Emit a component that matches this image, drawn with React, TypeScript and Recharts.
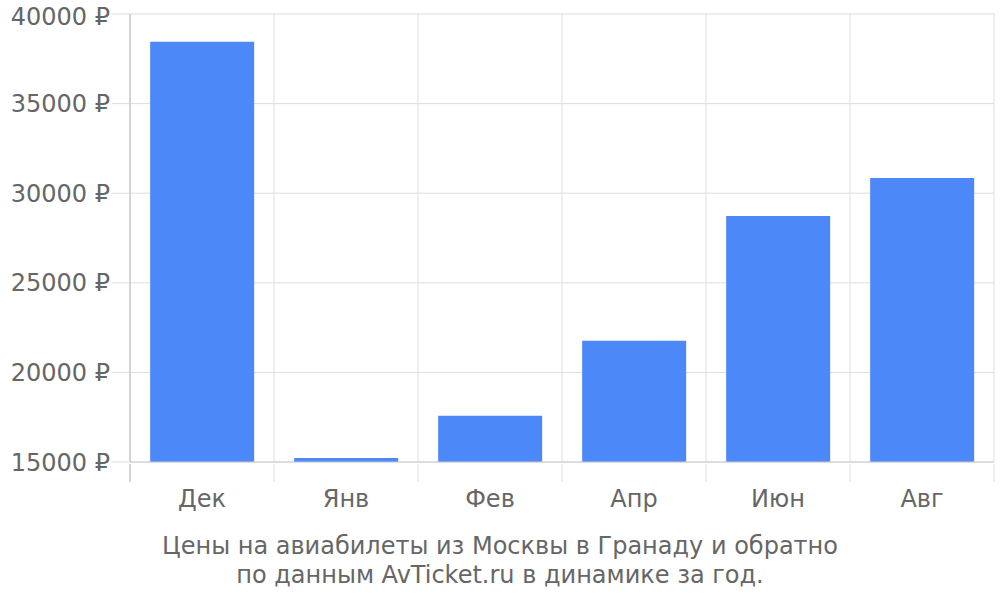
import { BarChart, Bar, XAxis, YAxis, CartesianGrid } from 'recharts'

const months = ['Дек', 'Янв', 'Фев', 'Апр', 'Июн', 'Авг']
const prices = [38450, 15220, 17580, 21760, 28730, 30850]
const yTicks = [15000, 20000, 25000, 30000, 35000, 40000]
const caption = ['Цены на авиабилеты из Москвы в Гранаду и обратно', 'по данным AvTicket.ru в динамике за год.']

const W = 1000
const H = 600
const AXIS_W = 130
const RIGHT = 6
const FONT = '"DejaVu Sans", sans-serif'

const data = months.map((m, i) => ({ month: m, price: prices[i] }))

export default function App() {
  const band = (W - AXIS_W - RIGHT) / months.length

  const MonthTick = (props: any) => {
    const { x, y, payload, index } = props
    const left = x - band / 2
    return (
      <g>
        <line x1={left} x2={left} y1={y} y2={y + 18} stroke={index === 0 ? '#aaaaaa' : '#dddddd'} />
        {index === months.length - 1 && (
          <line x1={x + band / 2} x2={x + band / 2} y1={y} y2={y + 18} stroke="#dddddd" />
        )}
        <text x={x} y={y + 43} textAnchor="middle" fill="#666" fontSize={24} fontFamily={FONT}>
          {payload.value}
        </text>
      </g>
    )
  }

  return (
    <div style={{ position: 'absolute', left: 0, top: 0, width: W, height: H, background: '#fff' }}>
      <BarChart width={W} height={H} data={data} margin={{ top: 14, right: RIGHT, left: 0, bottom: 98 }} barCategoryGap="14%">
        <CartesianGrid
          stroke="#dddddd"
          verticalCoordinatesGenerator={({ offset }: any) =>
            months.map((_, i) => offset.left + (offset.width / months.length) * (i + 1))
          }
        />
        <XAxis
          dataKey="month"
          axisLine={{ stroke: '#cccccc' }}
          tickLine={false}
          tickSize={0}
          tick={<MonthTick />}
          height={40}
          interval={0}
        />
        <YAxis
          width={AXIS_W}
          domain={[15000, 40000]}
          ticks={yTicks}
          allowDataOverflow
          axisLine={{ stroke: '#aaaaaa' }}
          tickLine={{ stroke: '#dddddd' }}
          tickSize={18}
          tickMargin={2}
          tickFormatter={(v: number) => `${v} ₽`}
          tick={{ fill: '#666', fontSize: 24, fontFamily: FONT }}
        />
        <Bar dataKey="price" fill="#4d88f9" isAnimationActive={false} />
      </BarChart>
      <div
        style={{
          position: 'absolute',
          left: 0,
          top: 532,
          width: W,
          textAlign: 'center',
          color: '#666',
          fontSize: 24,
          lineHeight: '29px',
          fontFamily: FONT,
        }}
      >
        {caption.map((c) => (
          <div key={c}>{c}</div>
        ))}
      </div>
    </div>
  )
}
